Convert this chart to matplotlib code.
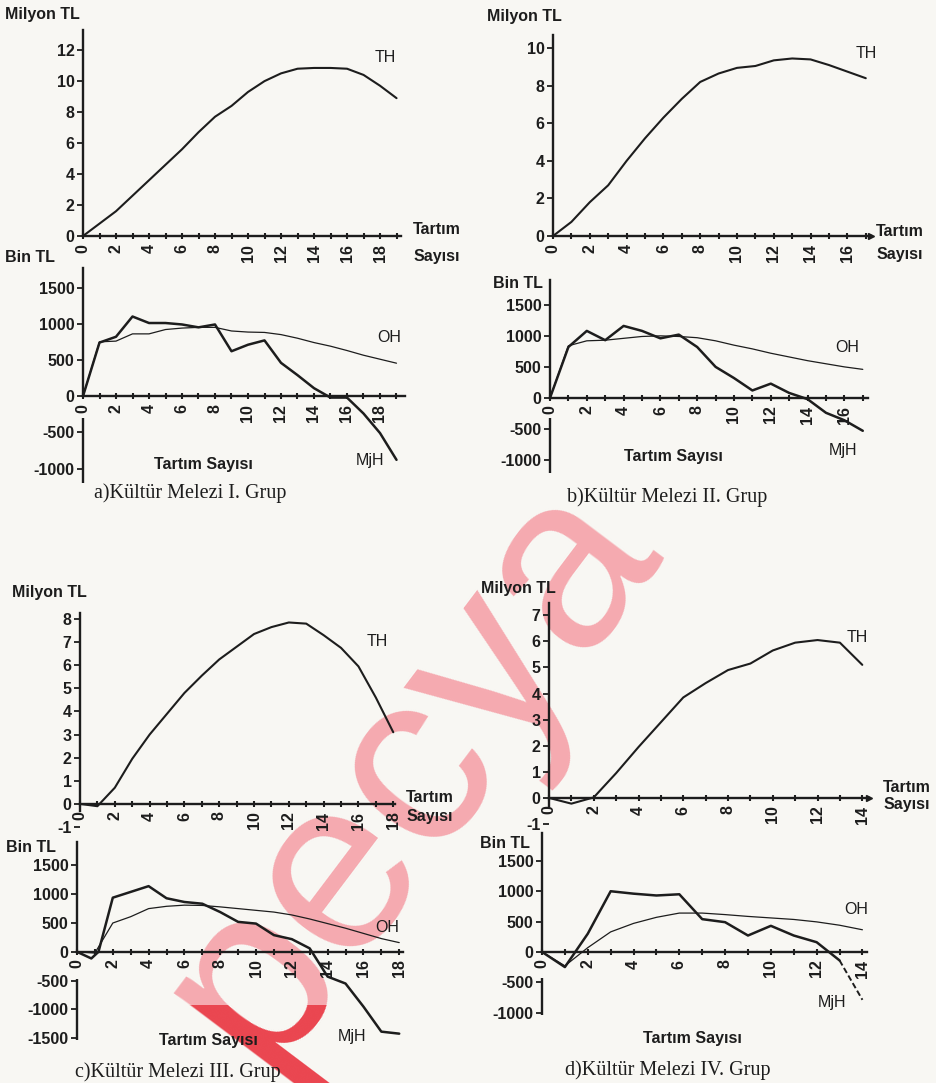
import matplotlib
matplotlib.use("Agg")
import matplotlib.pyplot as plt
from matplotlib.transforms import Bbox, TransformedBbox

# --- data ---
a_x = list(range(20))
a_th = [0, 0.8, 1.6, 2.6, 3.6, 4.6, 5.6, 6.7, 7.7, 8.4, 9.3, 10.0, 10.5, 10.8, 10.85, 10.85, 10.8, 10.4, 9.7, 8.9]
a_oh = [0, 750, 760, 860, 860, 920, 940, 950, 950, 900, 885, 880, 850, 800, 740, 690, 630, 565, 510, 455]
a_mjh = [0, 740, 820, 1100, 1010, 1010, 990, 950, 990, 620, 710, 770, 460, 290, 110, -20, -20, -240, -510, -880]

b_x = list(range(18))
b_th = [0, 0.75, 1.8, 2.7, 4.0, 5.2, 6.3, 7.3, 8.2, 8.65, 8.95, 9.05, 9.35, 9.45, 9.4, 9.1, 8.75, 8.4]
b_oh = [0, 840, 920, 930, 960, 990, 1000, 990, 970, 920, 850, 790, 720, 660, 600, 550, 500, 460]
b_mjh = [0, 820, 1080, 930, 1160, 1080, 960, 1020, 820, 500, 320, 120, 230, 80, -20, -240, -360, -530]

c_x = list(range(19))
c_th = [0, -0.1, 0.7, 1.95, 3.0, 3.9, 4.8, 5.55, 6.25, 6.8, 7.35, 7.65, 7.85, 7.8, 7.3, 6.75, 5.95, 4.6, 3.1]
c_oh = [0, -20, 500, 610, 750, 790, 810, 805, 780, 750, 720, 690, 640, 570, 490, 410, 320, 230, 160]
c_mjh_x = [0, 0.8, 1.2, 2, 3, 4, 5, 6, 7, 8, 9, 10, 11, 12, 13, 14, 15, 16, 17, 18]
c_mjh = [0, -115, 0, 940, 1040, 1140, 930, 865, 835, 690, 520, 490, 290, 220, 60, -430, -550, -950, -1385, -1420]

d_x = list(range(15))
d_th = [0, -0.22, 0.02, 0.95, 1.95, 2.9, 3.85, 4.4, 4.9, 5.15, 5.65, 5.95, 6.05, 5.95, 5.1]
d_oh = [0, -230, 70, 330, 470, 570, 640, 640, 615, 585, 560, 535, 495, 440, 365]
d_mjh = [0, -250, 300, 1000, 960, 930, 950, 540, 490, 270, 430, 270, 160, -140, -790]

captions = ["a)Kültür Melezi I. Grup", "b)Kültür Melezi II. Grup",
            "c)Kültür Melezi III. Grup", "d)Kültür Melezi IV. Grup"]

W, H = 937, 1083
ink = "#1d1d1d"
paper = "#f8f7f3"
fs = 11.5
plt.rcParams["font.family"] = ["Liberation Sans", "DejaVu Sans"]
plt.rcParams["axes.unicode_minus"] = False

fig = plt.figure(figsize=(W / 100, H / 100), dpi=100, facecolor=paper)


def label(x, y, s, **kw):
    opts = dict(fontsize=fs, color=ink, va="center", ha="left")
    opts.update(kw)
    return fig.text(x / W, 1 - y / H, s, **opts)


def panel(left, right, top, bottom, xlim, ylim, yticks, xmax_tick, lower=None, spine_low=None):
    ax = fig.add_axes([left / W, 1 - bottom / H, (right - left) / W, (bottom - top) / H])
    ax.set_xlim(*xlim)
    ax.set_ylim(*ylim)
    ax.patch.set_visible(False)
    ax.spines["top"].set_visible(False)
    ax.spines["right"].set_visible(False)
    for s in ["left", "bottom"]:
        ax.spines[s].set_linewidth(1.7)
        ax.spines[s].set_color(ink)
    ax.spines["bottom"].set_position(("data", 0))
    xt = list(range(0, xmax_tick + 1))
    ax.set_xticks(xt)
    ax.set_xticklabels([str(v) if v % 2 == 0 else "" for v in xt], rotation=90,
                       fontweight="bold")
    ax.set_yticks(yticks)
    ax.set_yticklabels([str(v) for v in yticks], fontweight="bold")
    ax.tick_params(axis="x", direction="inout", length=5, width=1.5, colors=ink,
                   labelsize=fs, pad=3)
    ax.tick_params(axis="y", direction="out", length=4, width=1.3, colors=ink,
                   labelsize=fs, pad=2)
    if spine_low is not None:
        ax.spines["left"].set_bounds(spine_low, ylim[1])
    if lower is not None:
        # y axis is broken where the x tick labels sit
        ax.spines["left"].set_bounds(0, ylim[1])
        ax.plot([0, 0], [lower, ylim[0]], color=ink, lw=1.7,
                solid_capstyle="butt", clip_on=False)
    return ax


def curve(ax, x, y, lw):
    ax.plot(x, y, color=ink, lw=lw, clip_on=False, solid_joinstyle="round",
            solid_capstyle="round")


# a) top / bottom
ax = panel(83, 401.5, 30, 236, (0, 19.3), (0, 13.3), list(range(0, 13, 2)), 19)
curve(ax, a_x, a_th, 1.5)
ax = panel(83, 404.75, 268, 483, (0, 19.5), (-1200, 1770), list(range(-1000, 1501, 500)), 19,
           lower=-300)
curve(ax, a_x, a_oh, 0.9)
curve(ax, a_x, a_mjh, 1.8)

# b) top / bottom
ax = panel(553, 871.3, 35, 236, (0, 17.3), (0, 10.7), list(range(0, 11, 2)), 17)
curve(ax, b_x, b_th, 1.5)
ax.plot(1, 0, ">", color=ink, ms=4, transform=ax.get_yaxis_transform(), clip_on=False)
ax = panel(550, 868.3, 280, 473, (0, 17.3), (-1210, 1900), list(range(-1000, 1501, 500)), 17,
           lower=-320)
curve(ax, b_x, b_oh, 0.9)
curve(ax, b_x, b_mjh, 1.8)

# c) top / bottom
ax = panel(80, 395, 613, 827, (0, 18.1), (-1, 8.26), list(range(-1, 9)), 18, spine_low=-0.3)
curve(ax, c_x, c_th, 1.5)
ax = panel(77, 402.8, 842, 1040, (0, 18.2), (-1530, 1906), list(range(-1500, 1501, 500)), 18,
           lower=-470)
curve(ax, c_x, c_oh, 0.9)
curve(ax, c_mjh_x, c_mjh, 1.8)

# d) top / bottom
ax = panel(549, 869, 603, 824, (0, 14.3), (-1, 7.47), list(range(-1, 8)), 14, spine_low=-0.3)
curve(ax, d_x, d_th, 1.5)
ax.plot(1, 0, ">", color=ink, ms=4, transform=ax.get_yaxis_transform(), clip_on=False)
ax = panel(542, 867, 833, 1015, (0, 14.2), (-1040, 1960), list(range(-1000, 1501, 500)), 14,
           lower=-430)
curve(ax, d_x, d_oh, 0.9)
curve(ax, d_x[:-1], d_mjh[:-1], 1.8)
ax.plot(d_x[-2:], d_mjh[-2:], color=ink, lw=1.4, ls=(0, (3, 1.5)), clip_on=False)

# --- texts ---
bold = dict(fontweight="bold")
for x, y in [(5, 15), (487, 17), (12, 593), (481, 589)]:
    label(x, y, "Milyon TL", **bold)
for x, y in [(5, 258), (493, 283), (6, 848), (480, 843)]:
    label(x, y, "Bin TL", **bold)
for x, y in [(385, 58), (866, 53), (377, 642), (857, 637)]:
    label(x, y, "TH", ha="center")
for x, y in [(389, 337), (847, 348), (387, 928), (856, 910)]:
    label(x, y, "OH", ha="center")
for x, y in [(370, 461), (843, 450), (352, 1037), (832, 1003)]:
    label(x, y, "MjH", ha="center")
for x, y in [(203, 465), (673, 457), (208, 1040), (692, 1038)]:
    label(x, y, "Tartım Sayısı", ha="center", **bold)
for x, y1, y2 in [(437, 230, 257), (900, 231, 255), (430, 798, 817), (907, 788, 805)]:
    label(x, y1, "Tartım", ha="center", **bold)
    label(x, y2, "Sayısı", ha="center", **bold)
for (x, y), s in zip([(190, 493), (667, 497), (178, 1072), (668, 1070)], captions):
    label(x, y, s, ha="center", fontsize=14.5, family="Liberation Serif")

# --- watermark ---
wm = dict(fontsize=178, rotation=53, ha="center", va="center", rotation_mode="anchor",
          zorder=-1, family="Liberation Sans")
label(410, 770, "pecya", color="#f5aab0", **wm)
t = label(410, 770, "pecya", color="#ea4650", **wm)
t.set_clip_box(TransformedBbox(Bbox([[0, 0], [1, 1 - 1005 / H]]), fig.transFigure))
t.set_clip_on(True)

fig.savefig("out.png", dpi=100, facecolor=paper)
